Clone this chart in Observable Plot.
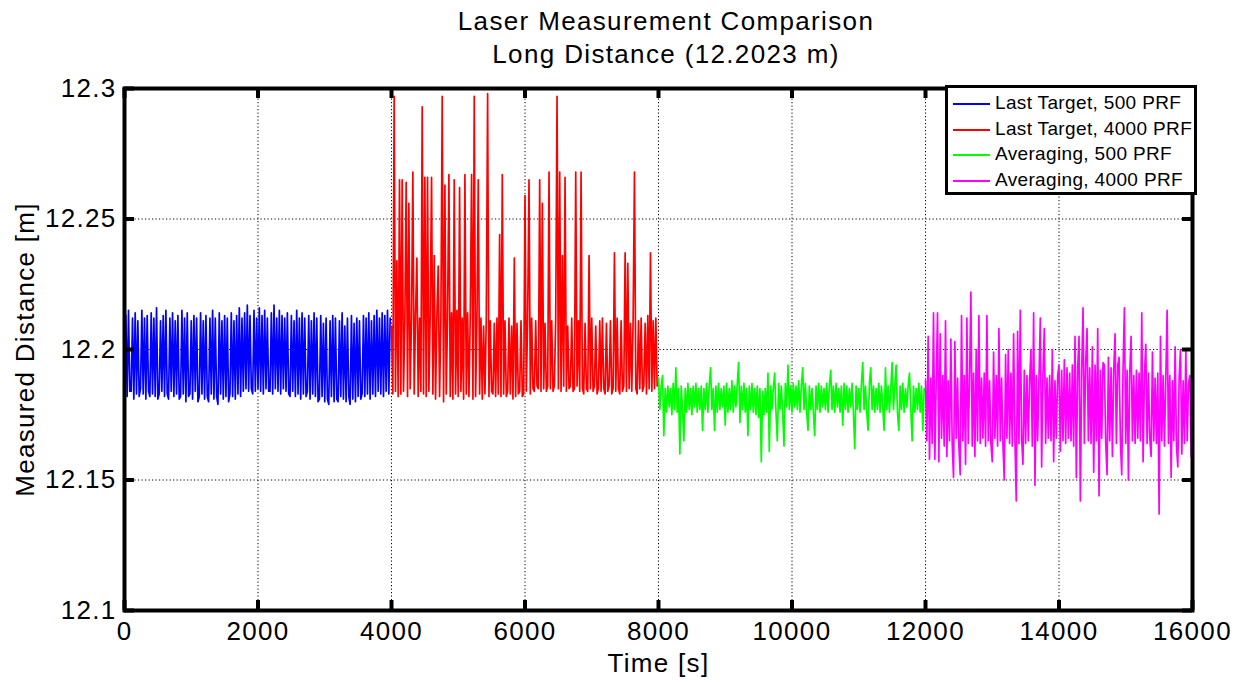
<!DOCTYPE html>
<html>
<head>
<meta charset="utf-8">
<script src="https://cdn.jsdelivr.net/npm/d3@7"></script>
<script src="https://cdn.jsdelivr.net/npm/@observablehq/plot@0.6"></script>
<style>
  html, body { margin: 0; padding: 0; background: white; }
  #fig { position: relative; width: 1246px; height: 684px; overflow: hidden; font-family: "Liberation Sans", Arial, Helvetica, sans-serif; }
  .title { position: absolute; left: 266px; width: 800px; text-align: center; font-size: 26px; line-height: 26px; letter-spacing: 1.35px; color: black; white-space: nowrap; }
  #chart { position: absolute; left: 0; top: 74px; }
  #legend { position: absolute; left: 945px; top: 85px; width: 252px; height: 110px; box-sizing: border-box; border: 3px solid black; background: white; }
  .lg-line { position: absolute; left: 5px; width: 37px; height: 2px; }
  .lg-text { position: absolute; left: 47px; font-size: 19px; line-height: 19px; letter-spacing: 0.35px; white-space: nowrap; color: black; }
</style>
</head>
<body>
<div id="fig">
  <div class="title" style="top:8px">Laser Measurement Comparison</div>
  <div class="title" style="top:41px">Long Distance (12.2023 m)</div>
  <div id="chart"></div>
  <div id="legend"></div>
</div>
<script>
// ---- data ----
const seriesNames = ["Last Target, 500 PRF", "Last Target, 4000 PRF", "Averaging, 500 PRF", "Averaging, 4000 PRF"];
const seriesColors = ["#0000ff", "#ff0000", "#00ff00", "#ff00ff"];
const seriesStart = [0, 4000, 8000, 12000];
const sampleStep = 20;

const lastTarget500 = [
12.183,12.213,12.182,12.215,12.184,12.184,12.212,12.181,12.214,12.183,12.211,12.182,12.185,12.215,12.183,12.212,12.181,12.213,12.184,12.182,
12.214,12.183,12.212,12.182,12.216,12.181,12.183,12.211,12.184,12.213,12.182,12.215,12.183,12.181,12.212,12.184,12.214,12.182,12.211,12.183,
12.213,12.181,12.182,12.215,12.183,12.212,12.180,12.214,12.182,12.183,12.211,12.181,12.213,12.184,12.212,12.180,12.182,12.214,12.183,12.211,
12.181,12.213,12.182,12.180,12.212,12.183,12.215,12.181,12.212,12.182,12.179,12.214,12.183,12.211,12.181,12.213,12.182,12.212,12.180,12.183,
12.214,12.182,12.211,12.181,12.213,12.183,12.216,12.182,12.212,12.184,12.214,12.185,12.217,12.184,12.213,12.185,12.183,12.215,12.184,12.212,
12.185,12.216,12.184,12.213,12.183,12.215,12.185,12.212,12.184,12.184,12.214,12.183,12.217,12.185,12.212,12.184,12.215,12.183,12.213,12.185,
12.212,12.184,12.214,12.183,12.182,12.213,12.184,12.211,12.182,12.215,12.183,12.212,12.181,12.214,12.183,12.212,12.182,12.184,12.213,12.181,
12.211,12.183,12.214,12.182,12.212,12.180,12.181,12.213,12.182,12.210,12.180,12.212,12.181,12.179,12.211,12.182,12.213,12.180,12.212,12.181,
12.180,12.211,12.182,12.214,12.181,12.209,12.180,12.212,12.182,12.179,12.213,12.181,12.210,12.180,12.212,12.182,12.211,12.181,12.183,12.213,
12.182,12.212,12.183,12.214,12.181,12.211,12.183,12.213,12.182,12.215,12.184,12.212,12.183,12.214,12.182,12.213,12.184,12.215,12.183,12.212
];

const lastTarget4000 = [
12.209,12.183,12.297,12.184,12.234,12.182,12.265,12.183,12.265,12.184,12.211,12.264,12.182,12.256,12.185,12.212,12.268,12.183,12.213,12.235,
12.182,12.212,12.184,12.293,12.183,12.266,12.182,12.266,12.184,12.214,12.266,12.183,12.236,12.181,12.213,12.232,12.182,12.212,12.297,12.180,
12.263,12.183,12.213,12.267,12.182,12.214,12.181,12.265,12.183,12.215,12.182,12.262,12.184,12.212,12.181,12.267,12.183,12.214,12.182,12.213,
12.267,12.181,12.297,12.182,12.211,12.265,12.183,12.212,12.181,12.209,12.183,12.212,12.298,12.182,12.211,12.184,12.183,12.210,12.182,12.212,
12.183,12.244,12.182,12.267,12.183,12.211,12.182,12.184,12.212,12.183,12.209,12.181,12.235,12.182,12.210,12.183,12.184,12.211,12.182,12.183,
12.259,12.184,12.213,12.265,12.183,12.212,12.185,12.184,12.211,12.186,12.185,12.265,12.184,12.256,12.185,12.210,12.184,12.186,12.268,12.185,
12.211,12.184,12.186,12.212,12.297,12.185,12.268,12.184,12.236,12.186,12.266,12.184,12.209,12.185,12.186,12.212,12.184,12.185,12.268,12.186,
12.211,12.184,12.268,12.185,12.183,12.210,12.185,12.184,12.236,12.185,12.212,12.184,12.186,12.209,12.183,12.185,12.211,12.184,12.212,12.185,
12.183,12.210,12.184,12.186,12.211,12.183,12.185,12.237,12.184,12.212,12.185,12.183,12.211,12.184,12.186,12.237,12.184,12.233,12.185,12.210,
12.184,12.212,12.268,12.185,12.183,12.211,12.185,12.212,12.184,12.186,12.210,12.183,12.213,12.185,12.237,12.184,12.211,12.185,12.212,12.186
];

const averaging500 = [
12.189,12.177,12.186,12.190,12.167,12.185,12.176,12.186,12.178,12.185,12.175,12.187,12.177,12.193,12.176,12.185,12.160,12.186,12.177,12.165,
12.185,12.176,12.187,12.177,12.185,12.175,12.186,12.178,12.187,12.176,12.185,12.177,12.186,12.169,12.185,12.177,12.187,12.176,12.186,12.193,
12.177,12.185,12.169,12.186,12.176,12.187,12.177,12.185,12.178,12.186,12.171,12.187,12.176,12.185,12.177,12.188,12.176,12.186,12.178,12.187,
12.195,12.172,12.186,12.177,12.187,12.176,12.185,12.167,12.186,12.177,12.187,12.176,12.185,12.175,12.186,12.174,12.185,12.157,12.184,12.175,
12.185,12.176,12.191,12.161,12.186,12.177,12.185,12.191,12.176,12.165,12.187,12.177,12.186,12.176,12.163,12.187,12.178,12.194,12.177,12.186,
12.176,12.187,12.178,12.186,12.177,12.188,12.176,12.186,12.193,12.177,12.187,12.176,12.169,12.186,12.177,12.185,12.176,12.167,12.186,12.177,
12.187,12.176,12.186,12.178,12.185,12.177,12.187,12.176,12.186,12.192,12.177,12.186,12.176,12.187,12.178,12.185,12.176,12.186,12.171,12.187,
12.177,12.186,12.176,12.185,12.178,12.187,12.176,12.162,12.186,12.177,12.185,12.176,12.187,12.195,12.177,12.186,12.176,12.169,12.187,12.193,
12.177,12.186,12.176,12.185,12.177,12.187,12.176,12.186,12.178,12.169,12.193,12.177,12.186,12.176,12.185,12.195,12.177,12.186,12.194,12.176,
12.169,12.186,12.177,12.187,12.176,12.185,12.178,12.186,12.191,12.177,12.165,12.186,12.176,12.185,12.177,12.187,12.176,12.186,12.169,12.185
];

const averaging4000 = [
12.188,12.165,12.205,12.158,12.189,12.164,12.214,12.158,12.187,12.214,12.157,12.206,12.166,12.190,12.163,12.211,12.159,12.188,12.165,12.204,
12.164,12.151,12.203,12.166,12.189,12.163,12.152,12.213,12.165,12.190,12.156,12.212,12.164,12.188,12.222,12.163,12.191,12.159,12.200,12.165,
12.213,12.164,12.189,12.166,12.191,12.163,12.213,12.165,12.188,12.164,12.157,12.199,12.166,12.190,12.163,12.208,12.165,12.189,12.164,12.150,
12.198,12.166,12.200,12.164,12.191,12.163,12.206,12.165,12.142,12.207,12.164,12.215,12.166,12.156,12.192,12.164,12.190,12.165,12.188,12.200,
12.163,12.214,12.148,12.190,12.165,12.189,12.212,12.155,12.191,12.208,12.164,12.189,12.166,12.190,12.165,12.200,12.157,12.188,12.166,12.190,
12.194,12.161,12.192,12.165,12.196,12.164,12.193,12.166,12.191,12.165,12.194,12.163,12.205,12.151,12.193,12.205,12.142,12.192,12.216,12.164,
12.195,12.208,12.165,12.193,12.164,12.201,12.153,12.194,12.165,12.208,12.144,12.192,12.166,12.195,12.194,12.164,12.152,12.197,12.165,12.193,
12.159,12.192,12.206,12.164,12.194,12.197,12.165,12.152,12.193,12.216,12.164,12.192,12.150,12.191,12.205,12.165,12.190,12.164,12.192,12.166,
12.191,12.165,12.214,12.157,12.190,12.202,12.164,12.191,12.166,12.159,12.199,12.165,12.189,12.164,12.191,12.137,12.205,12.165,12.190,12.163,
12.189,12.215,12.164,12.190,12.151,12.188,12.165,12.201,12.163,12.155,12.189,12.200,12.160,12.188,12.164,12.200,12.165,12.187,12.190,12.159
];

const seriesValues = [lastTarget500, lastTarget4000, averaging500, averaging4000];

const xTicks = [0, 2000, 4000, 6000, 8000, 10000, 12000, 14000, 16000];
const yTicks = [12.1, 12.15, 12.2, 12.25, 12.3];
const xDomain = [0, 16000];
const yDomain = [12.1, 12.3];
const xLabel = "Time [s]";
const yLabel = "Measured Distance [m]";

// ---- table built from the arrays ----
const rows = [];
seriesValues.forEach((vals, s) => {
  vals.forEach((v, i) => rows.push({series: seriesNames[s], t: seriesStart[s] + i * sampleStep, v}));
});

const W = 1246, H = 610;
const mL = 124, mR = 54, mT = 14, mB = 74;
const frameW = W - mL - mR, frameH = H - mT - mB;
const tickLen = 10;
const font = "'Liberation Sans', Arial, Helvetica, sans-serif";

const chart = Plot.plot({
  width: W, height: H,
  marginLeft: mL, marginRight: mR, marginTop: mT, marginBottom: mB,
  style: {fontFamily: font, fontSize: "26px", letterSpacing: "1.3px", background: "white", color: "black", overflow: "visible"},
  x: {domain: xDomain},
  y: {domain: yDomain},
  color: {domain: seriesNames, range: seriesColors},
  marks: [
    Plot.gridX(xTicks, {stroke: "black", strokeOpacity: 1, strokeWidth: 1, strokeDasharray: "1.2,2.3"}),
    Plot.gridY(yTicks, {stroke: "black", strokeOpacity: 1, strokeWidth: 1, strokeDasharray: "1.2,2.3"}),
    Plot.line(rows, {x: "t", y: "v", z: "series", stroke: "series", strokeWidth: 1.7, curve: "linear"}),
    Plot.frame({stroke: "black", strokeWidth: 4}),
    Plot.tickX(xTicks, {x: d => d, stroke: "black", strokeWidth: 4, insetBottom: frameH - tickLen}),
    Plot.tickX(xTicks, {x: d => d, stroke: "black", strokeWidth: 4, insetTop: frameH - tickLen}),
    Plot.tickY(yTicks, {y: d => d, stroke: "black", strokeWidth: 4, insetRight: frameW - tickLen}),
    Plot.tickY(yTicks, {y: d => d, stroke: "black", strokeWidth: 4, insetLeft: frameW - tickLen}),
    Plot.axisX(xTicks, {tickSize: 0, tickPadding: 11, fontSize: 26, label: null, tickFormat: d => String(d)}),
    Plot.axisY(yTicks, {tickSize: 0, tickPadding: 8, fontSize: 26, label: null, tickFormat: d => String(d)}),
    Plot.text([xLabel], {text: d => d, frameAnchor: "bottom", lineAnchor: "middle", textAnchor: "middle", dy: 53, fontSize: 26, fill: "black"}),
    Plot.text([yLabel], {text: d => d, frameAnchor: "left", lineAnchor: "middle", textAnchor: "middle", dx: -99, rotate: -90, fontSize: 26, fill: "black"})
  ]
});
document.getElementById("chart").appendChild(chart);

// ---- legend ----
const legend = document.getElementById("legend");
const lineY = [15, 41, 66, 92];
seriesNames.forEach((name, i) => {
  const ln = document.createElement("div");
  ln.className = "lg-line";
  ln.style.top = lineY[i] + "px";
  ln.style.background = seriesColors[i];
  legend.appendChild(ln);
  const tx = document.createElement("div");
  tx.className = "lg-text";
  tx.style.top = (lineY[i] - 10) + "px";
  tx.textContent = name;
  legend.appendChild(tx);
});
</script>
</body>
</html>
